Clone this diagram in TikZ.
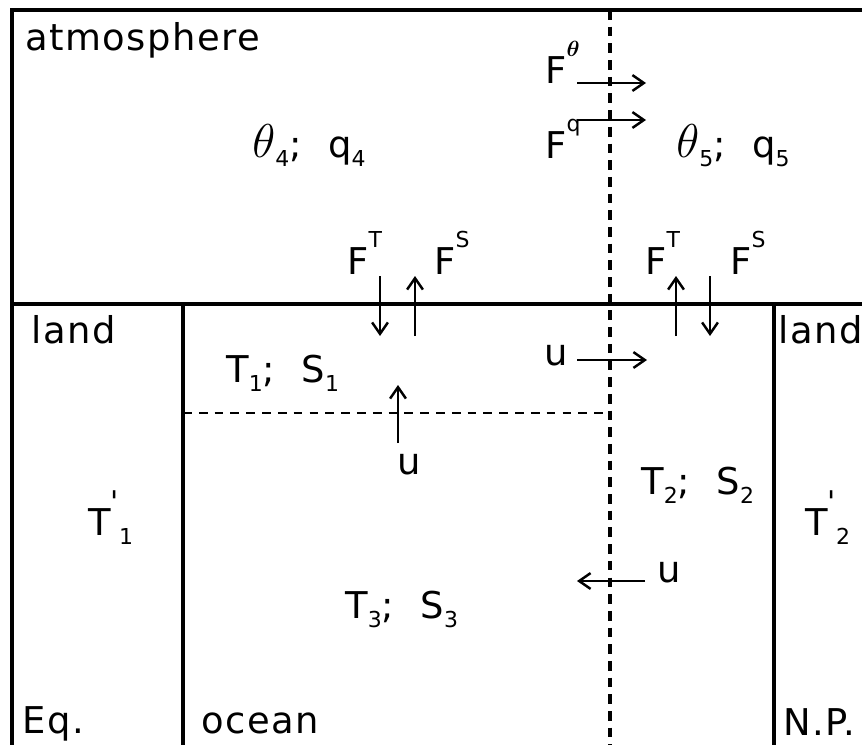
\documentclass[tikz,border=0pt]{standalone}
\usepackage{fix-cm}
\usepackage{amsmath}
\usepackage{fontspec}
\setmainfont[LetterSpace=4]{DejaVu Sans}
\usetikzlibrary{arrows.meta}
\newcommand{\lsub}[1]{\raisebox{-0.45ex}{\fontsize{12.5}{13}\selectfont #1}}
\newcommand{\lsup}[1]{\raisebox{1.3ex}{\fontsize{12.5}{13}\selectfont #1}}
\newcommand{\lprime}{\raisebox{1.1ex}{\fontsize{17}{17}\selectfont\textquotesingle}}
\newcommand{\bigth}{{\fontsize{27}{27}\selectfont$\theta$}}
\tikzset{
  wall/.style={line width=1.8pt},
  cut/.style={line width=1.8pt, dash pattern=on 5.5pt off 4pt},
  layer/.style={line width=1.2pt, dash pattern=on 5pt off 4pt},
  flux/.style={-{Straight Barb[length=6.5pt,width=9pt]}, line width=1.4pt},
  lbl/.style={font=\fontsize{21}{25}\selectfont, inner sep=0pt, anchor=base west},
}
\begin{document}
\begin{tikzpicture}[x=0.02cm, y=-0.02cm]
\useasboundingbox (0,0) rectangle (862,744);
% frame and boxes
\coordinate (nw) at (12,10);
\coordinate (ne) at (870,10);
\coordinate (sw) at (12,750);
\coordinate (sfw) at (12,304);
\coordinate (sfe) at (870,304);
\coordinate (cl) at (183,304);
\coordinate (clb) at (183,750);
\coordinate (cr) at (774,304);
\coordinate (crb) at (774,750);
\coordinate (dtop) at (610,10);
\coordinate (dbot) at (610,750);
\coordinate (mixl) at (183,413);
\coordinate (mixr) at (610,413);
\draw[wall] (ne) -- (nw) -- (sw);
\draw[wall] (sfw) -- (sfe);
\draw[wall] (cl) -- (clb);
\draw[wall] (cr) -- (crb);
\draw[cut] (dtop) -- (dbot);
\draw[layer] (mixl) -- (mixr);

% arrow ends
\coordinate (fth0) at (577,83);   \coordinate (fth1) at (646,83);
\coordinate (fq0) at (577,120);   \coordinate (fq1) at (646,120);
\coordinate (ftl0) at (380,276);  \coordinate (ftl1) at (380,336);
\coordinate (fsl0) at (415,336);  \coordinate (fsl1) at (415,276);
\coordinate (ftr0) at (676,336);  \coordinate (ftr1) at (676,276);
\coordinate (fsr0) at (710,276);  \coordinate (fsr1) at (710,336);
\coordinate (ua0) at (577,360);   \coordinate (ua1) at (647,360);
\coordinate (ub0) at (398,443);   \coordinate (ub1) at (398,385);
\coordinate (uc0) at (645,581);   \coordinate (uc1) at (577,581);
\draw[flux] (fth0) -- (fth1);
\draw[flux] (fq0) -- (fq1);
\draw[flux] (ftl0) -- (ftl1);
\draw[flux] (fsl0) -- (fsl1);
\draw[flux] (ftr0) -- (ftr1);
\draw[flux] (fsr0) -- (fsr1);
\draw[flux] (ua0) -- (ua1);
\draw[flux] (ub0) -- (ub1);
\draw[flux] (uc0) -- (uc1);

% labels
\node[lbl] (atm) at (25,50) {atmosphere};
\node[lbl] (fth) at (545,83) {F\lsup{$\boldsymbol{\theta}$}};
\node[lbl] (fq) at (545,158) {F\lsup{q}};
\node[lbl] (box4) at (252,157) {\bigth\lsub{4};\ \ q\lsub{4}};
\node[lbl] (box5) at (676,157) {\bigth\lsub{5};\ \ q\lsub{5}};
\node[lbl] (ftl) at (347,274) {F\lsup{T}};
\node[lbl] (fsl) at (434,274) {F\lsup{S}};
\node[lbl] (ftr) at (645,274) {F\lsup{T}};
\node[lbl] (fsr) at (730,274) {F\lsup{S}};
\node[lbl] (landl) at (31,343) {land};
\node[lbl] (landr) at (778,343) {land};
\node[lbl] (box1) at (226,382) {T\lsub{1};\ \ S\lsub{1}};
\node[lbl] (ua) at (544,365) {u};
\node[lbl, anchor=base] (ub) at (409,474) {u};
\node[lbl] (box2) at (641,494) {T\lsub{2};\ \ S\lsub{2}};
\node[lbl] (tl1) at (88,535) {T\lprime\lsub{1}};
\node[lbl] (tl2) at (805,535) {T\lprime\lsub{2}};
\node[lbl] (box3) at (345,618) {T\lsub{3};\ \ S\lsub{3}};
\node[lbl] (uc) at (657,582) {u};
\node[lbl] (eq) at (22,733) {Eq.};
\node[lbl] (ocn) at (201,733) {ocean};
\node[lbl] (np) at (783,735) {N.P.};
\end{tikzpicture}
\end{document}
